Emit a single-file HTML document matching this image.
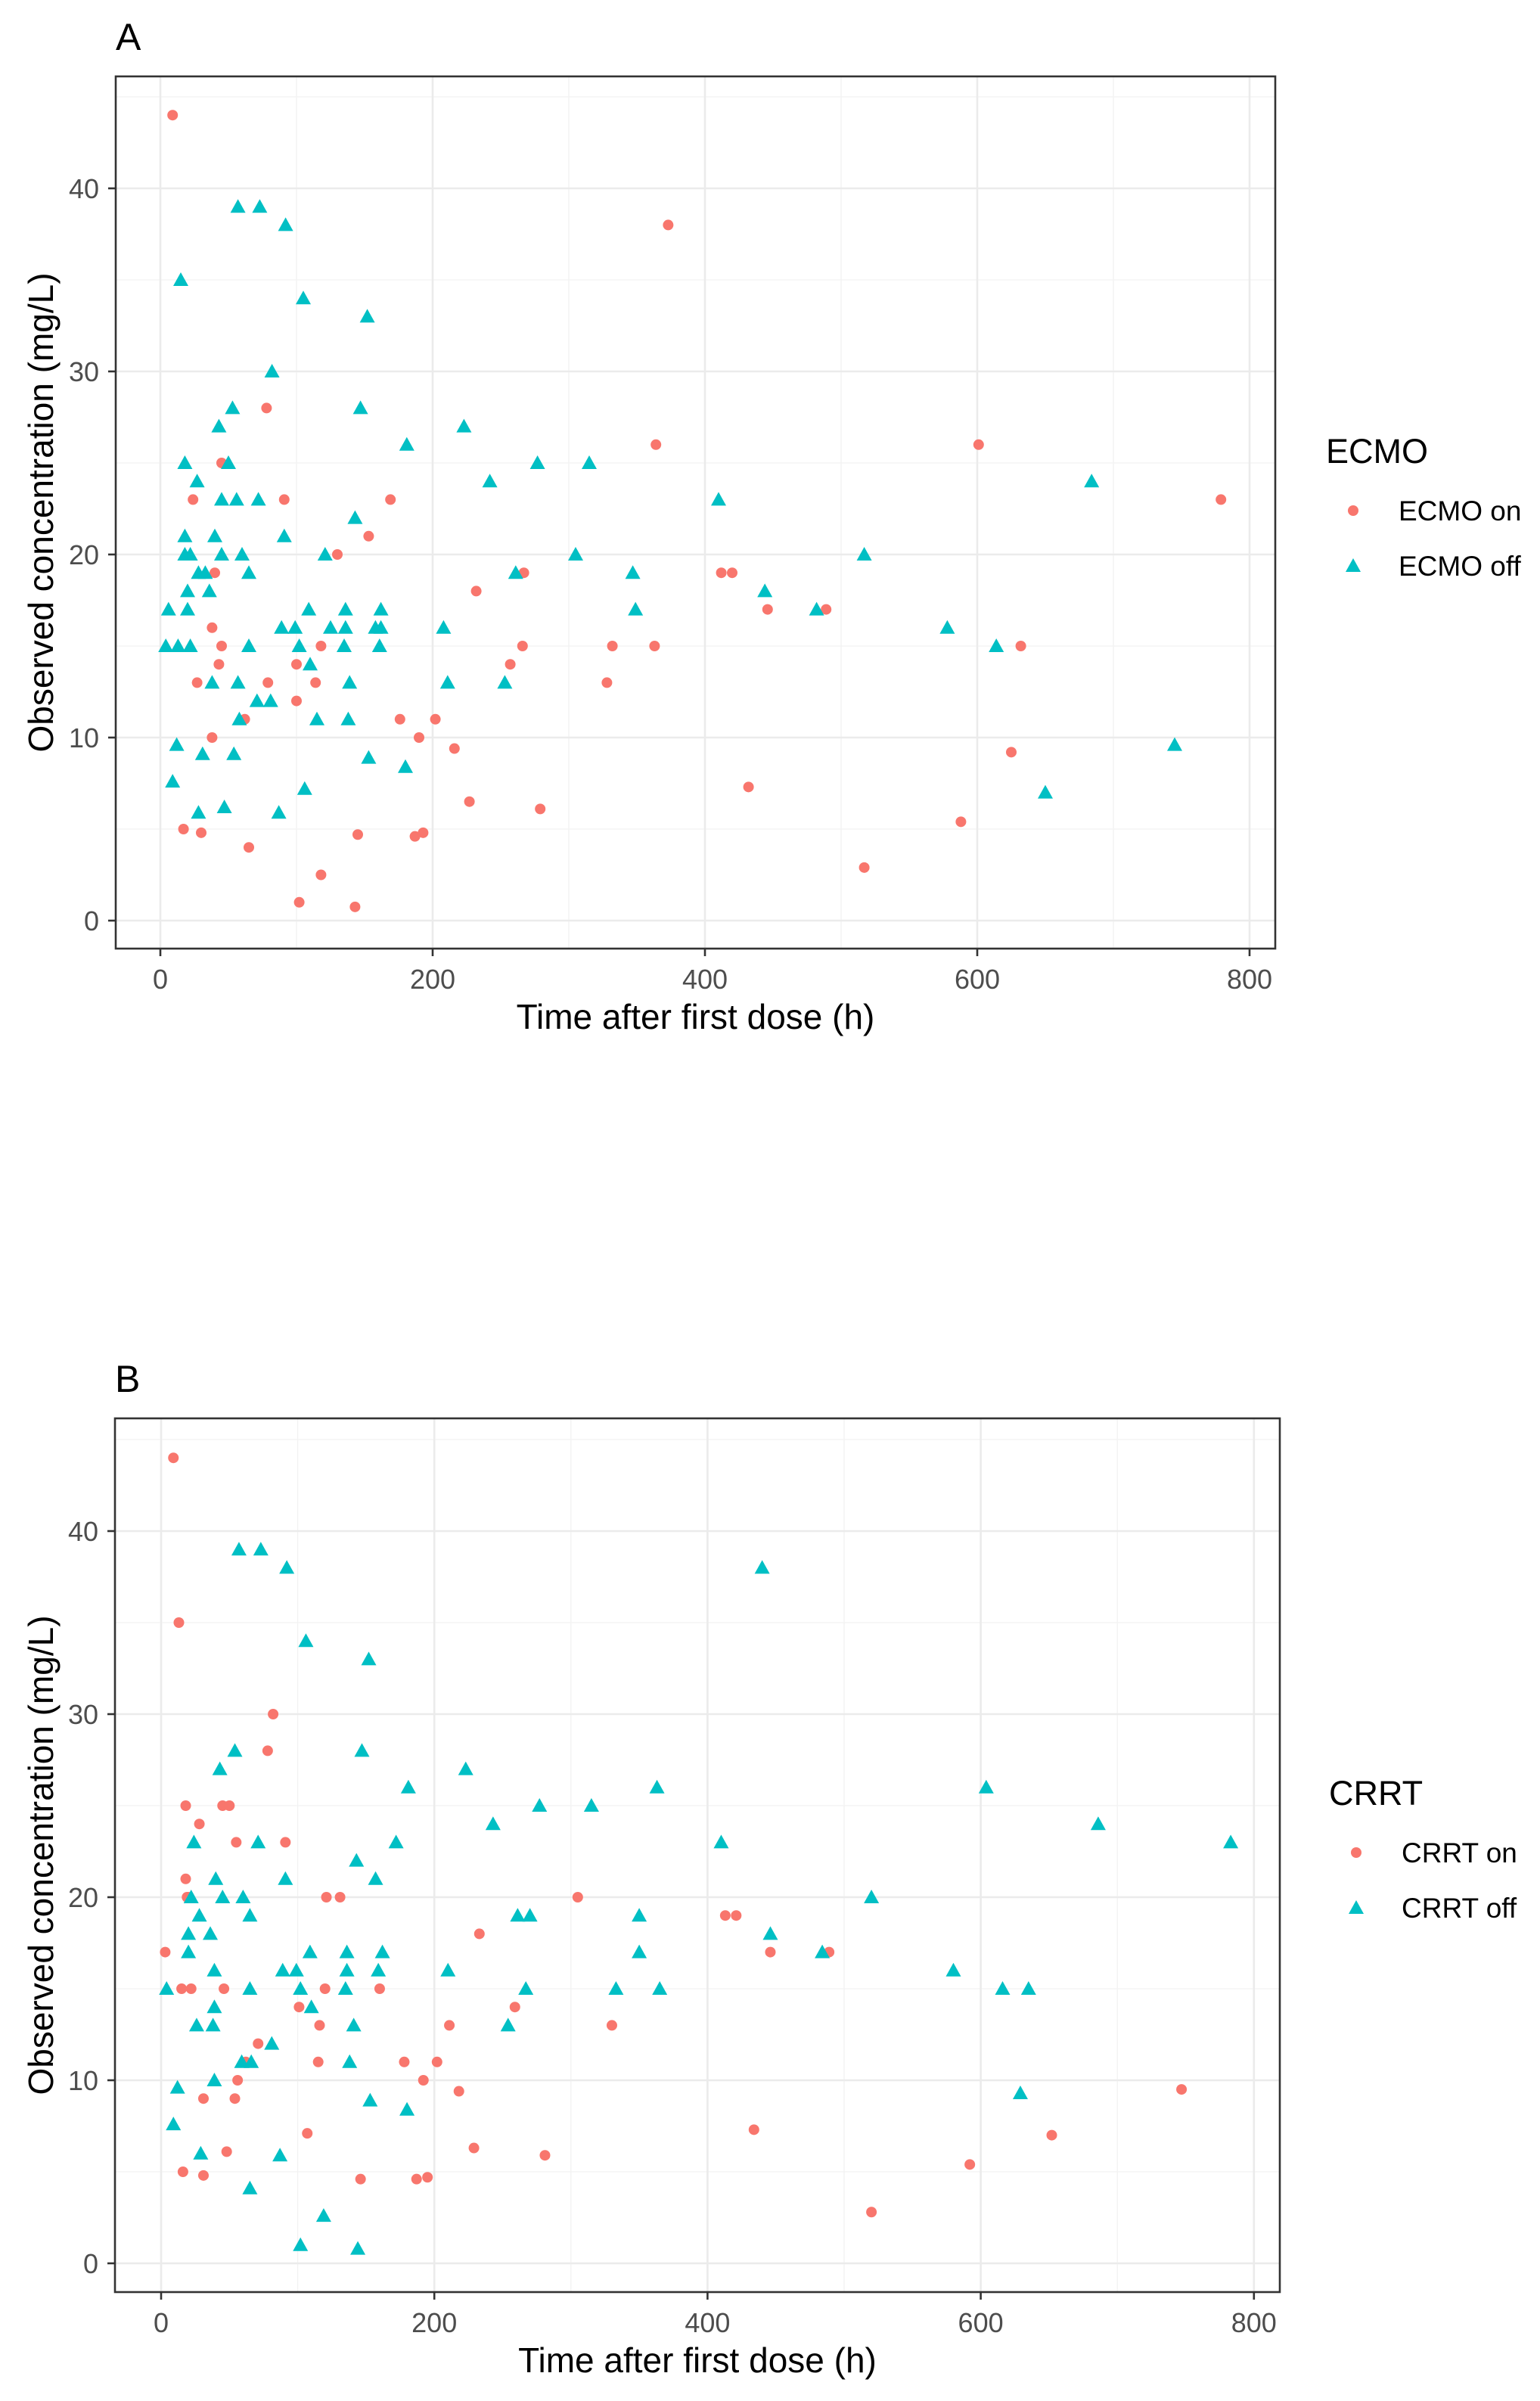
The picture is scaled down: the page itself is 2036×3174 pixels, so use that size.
<!DOCTYPE html>
<html><head><meta charset="utf-8">
<style>
html,body{margin:0;padding:0;background:#fff;}
svg{display:block;font-family:"Liberation Sans",Arial,sans-serif;}
</style></head>
<body>
<svg id="chart" width="2036" height="3174" viewBox="0 0 2036 3174" xmlns="http://www.w3.org/2000/svg">
<rect width="2036" height="3174" fill="#fff"/>
</svg>
<script>
// ---- data (time h, concentration mg/L) ----
const ecmoOnT = [9,373,364,601,779,45,24,91,169,153,130,78,40,267,412,420,232,38,45,332,363,266,446,489,632,257,43,100,118,114,79,27,328,176,202,62,100,190,38,216,625,432,227,279,588,17,30,187,193,145,65,118,517,102,143];
const ecmoOnV = [44,38,26,26,23,25,23,23,23,21,20,28,19,19,19,19,18,16,15,15,15,15,17,17,15,14,14,14,15,13,13,13,13,11,11,11,12,10,10,9.4,9.2,7.3,6.5,6.1,5.4,5,4.8,4.6,4.8,4.7,4,2.5,2.9,1,0.75];
const ecmoOffT = [57,73,92,15,105,152,82,53,147,43,223,18,50,181,277,315,27,242,684,45,56,72,410,143,18,40,91,18,22,45,60,121,305,517,28,33,65,261,347,20,36,444,6,20,109,136,162,349,482,89,99,125,136,158,162,208,578,4,13,22,65,102,135,161,614,110,38,57,139,211,253,71,81,58,115,138,12,745,31,54,153,180,9,106,650,47,28,87];
const ecmoOffV = [39,39,38,35,34,33,30,28,28,27,27,25,25,26,25,25,24,24,24,23,23,23,23,22,21,21,21,20,20,20,20,20,20,20,19,19,19,19,19,18,18,18,17,17,17,17,17,17,17,16,16,16,16,16,16,16,16,15,15,15,15,15,15,15,15,14,13,13,13,13,13,12,12,11,11,11,9.6,9.6,9.1,9.1,8.9,8.4,7.6,7.2,7,6.2,5.9,5.9];
const crrtOnT = [9,13,82,78,18,45,50,28,91,55,18,20,19,121,131,305,413,421,233,3,446,489,15,22,46,120,160,259,101,116,211,330,71,62,115,178,202,56,192,747,218,31,54,434,652,107,229,48,281,592,16,31,187,195,146,520];
const crrtOnV = [44,35,30,28,25,25,25,24,23,23,21,20,20,20,20,20,19,19,18,17,17,17,15,15,15,15,15,14,14,13,13,13,12,11,11,11,11,10,10,9.5,9.4,9,9,7.3,7,7.1,6.3,6.1,5.9,5.4,5,4.8,4.6,4.7,4.6,2.8];
const crrtOffT = [57,73,92,440,106,152,54,147,43,223,181,363,604,277,315,243,686,24,71,172,410,783,143,40,91,157,22,45,60,520,28,65,261,270,350,20,36,446,20,109,136,162,350,484,89,99,136,159,210,39,580,4,65,102,135,267,333,365,616,635,39,110,26,38,141,254,81,59,66,138,39,629,12,153,180,9,87,29,65,119,102,144];
const crrtOffV = [39,39,38,38,34,33,28,28,27,27,26,26,26,25,25,24,24,23,23,23,23,23,22,21,21,21,20,20,20,20,19,19,19,19,19,18,18,18,17,17,17,17,17,17,16,16,16,16,16,16,16,15,15,15,15,15,15,15,15,15,14,14,13,13,13,13,12,11,11,11,10,9.3,9.6,8.9,8.4,7.6,5.9,6,4.1,2.6,1,0.8];
const xTicks = [0,200,400,600,800];
const xMinor = [100,300,500,700];
const yTicks = [0,10,20,30,40];
const yMinor = [5,15,25,35,45];

const NS = "http://www.w3.org/2000/svg";
const svg = document.getElementById('chart');
function mk(tag, attrs, parent){
  const e = document.createElementNS(NS, tag);
  for (const k in attrs) e.setAttribute(k, attrs[k]);
  (parent||svg).appendChild(e);
  return e;
}

function panel(cfg){
  const g = mk('g', {});
  
  
  const L=cfg.left, R=cfg.right, T=cfg.top, B=cfg.bottom;
  const xs = t => cfg.x0 + cfg.xk * t;
  const ys = v => cfg.y0 - cfg.yk * v;
  xMinor.forEach(t => { const l = mk('line',{x1:xs(t),x2:xs(t),y1:T,y2:B,stroke:'#f2f2f2','stroke-width':1.3},g);
      });
  yMinor.forEach(v => { const l = mk('line',{x1:L,x2:R,y1:ys(v),y2:ys(v),stroke:'#f2f2f2','stroke-width':1.3},g);
      });
  xTicks.forEach(t => { const l = mk('line',{x1:xs(t),x2:xs(t),y1:T,y2:B,stroke:'#ebebeb','stroke-width':2.6},g);
      });
  yTicks.forEach(v => { const l = mk('line',{x1:L,x2:R,y1:ys(v),y2:ys(v),stroke:'#ebebeb','stroke-width':2.6},g);
      });
  cfg.onT.forEach((t,i) => {
    const c = mk('circle',{cx:xs(t),cy:ys(cfg.onV[i]),r:7,fill:'#F8766D'},g);
    
    
  });
  cfg.offT.forEach((t,i) => {
    const x = xs(t), y = ys(cfg.offV[i]);
    const p = mk('polygon',{points:`${x-10},${y+8} ${x+10},${y+8} ${x},${y-10}`,fill:'#00BFC4'},g);
    
    
  });
  const br = mk('rect',{x:L,y:T,width:R-L,height:B-T,fill:'none',stroke:'#333','stroke-width':2.6},g);
   
  xTicks.forEach(t => {
    const tk = mk('line',{x1:xs(t),x2:xs(t),y1:B,y2:B+10,stroke:'#333','stroke-width':2.6},g);
     
    const tx = mk('text',{x:xs(t),y:B+53,'text-anchor':'middle','font-size':36,fill:'#4d4d4d'},g);
    tx.textContent = t;
     
  });
  yTicks.forEach(v => {
    const tk = mk('line',{x1:L-10,x2:L,y1:ys(v),y2:ys(v),stroke:'#333','stroke-width':2.6},g);
     
    const tx = mk('text',{x:L-22,y:ys(v)+13,'text-anchor':'end','font-size':36,fill:'#4d4d4d'},g);
    tx.textContent = v;
     
  });
  const xt = mk('text',{x:(L+R)/2,y:B+106,'text-anchor':'middle','font-size':46,fill:'#000'},g);
  xt.textContent = 'Time after first dose (h)';
   
  const cy = (T+B)/2;
  const yt = mk('text',{x:0,y:0,'text-anchor':'middle','font-size':46,fill:'#000',transform:`translate(70,${cy}) rotate(-90)`},g);
  yt.textContent = 'Observed concentration (mg/L)';
   
  const pl = mk('text',{x:L,y:T-35,'font-size':50,fill:'#000'},g);
  pl.textContent = cfg.letter;
   
  const lg = mk('g',{},g);
   
  const lt = mk('text',{x:cfg.legX,y:cfg.legY,'font-size':45,fill:'#000'},lg);
  lt.textContent = cfg.key.toUpperCase();
   
  const mx = cfg.legX + 36;
  const y1 = cfg.legY + 63;
  const c = mk('circle',{cx:mx,cy:y1,r:7,fill:'#F8766D'},lg);
   
  const t1 = mk('text',{x:mx+60,y:y1+13,'font-size':37,fill:'#000'},lg);
  t1.textContent = cfg.key.toUpperCase()+' on';
   
  const y2 = y1 + 73;
  const p = mk('polygon',{points:`${mx-10},${y2+8} ${mx+10},${y2+8} ${mx},${y2-10}`,fill:'#00BFC4'},lg);
   
  const t2 = mk('text',{x:mx+60,y:y2+13,'font-size':37,fill:'#000'},lg);
  t2.textContent = cfg.key.toUpperCase()+' off';
   
}

panel({name:'panel-a-ecmo', key:'ecmo', letter:'A', left:153, right:1686, top:101, bottom:1254,
  x0:212, xk:1.8, y0:1217, yk:24.2, onT:ecmoOnT, onV:ecmoOnV, offT:ecmoOffT, offV:ecmoOffV,
  legX:1753, legY:612});
panel({name:'panel-b-crrt', key:'crrt', letter:'B', left:152, right:1692, top:1875, bottom:3030,
  x0:213, xk:1.806, y0:2992, yk:24.2, onT:crrtOnT, onV:crrtOnV, offT:crrtOffT, offV:crrtOffV,
  legX:1757, legY:2386});
</script>
</body></html>
